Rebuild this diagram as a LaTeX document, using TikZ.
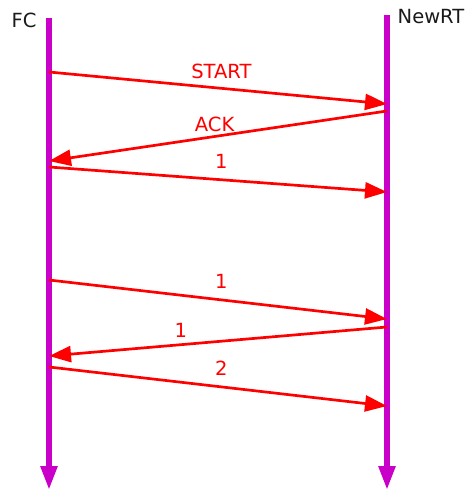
\documentclass[tikz,border=0pt]{standalone}
\usepackage{fontspec}
\setmainfont{DejaVu Sans}
\usepackage{tikz}
\usetikzlibrary{arrows.meta}

\definecolor{lifecol}{RGB}{200,0,200}
\definecolor{msgcol}{RGB}{255,0,0}
\definecolor{namecol}{RGB}{26,26,26}

\begin{document}
\begin{tikzpicture}[x=1pt,y=-1pt,font=\fontsize{19.5}{22}\selectfont]
\tikzstyle{life}=[draw=lifecol,line width=5.5pt,-{Triangle[length=24pt,width=16pt]}]
\tikzstyle{msg}=[draw=msgcol,line width=2.7pt,-{Triangle[length=22pt,width=16pt]}]
\tikzstyle{lbl}=[text=msgcol,inner sep=0pt]
\useasboundingbox (0,0) rectangle (467,491);

% the two parties
\node[text=namecol,inner sep=0pt] (FC) at (24,20) {FC};
\node[text=namecol,inner sep=0pt] (NRT) at (431,17) {NewRT};
\coordinate (FCtop) at (49,18);
\coordinate (FCend) at (49,490);
\coordinate (NRTtop) at (387,15);
\coordinate (NRTend) at (387,490);
\draw[life] (FCtop) -- (FCend);
\draw[life] (NRTtop) -- (NRTend);

% message end points
\coordinate (f1) at (49,72);   \coordinate (n1) at (387,104);
\coordinate (n2) at (387,111); \coordinate (f2) at (49,161);
\coordinate (f3) at (49,167);  \coordinate (n3) at (387,192);
\coordinate (f4) at (49,280);  \coordinate (n4) at (387,319);
\coordinate (n5) at (387,327); \coordinate (f5) at (49,356);
\coordinate (f6) at (49,367);  \coordinate (n6) at (387,406);

\path
(f1) edge[msg] node[lbl,pos=0.51,above=8pt] {START} (n1)
(n2) edge[msg] node[lbl,pos=0.51,above=3pt] {ACK} (f2)
(f3) edge[msg] node[lbl,pos=0.51,above=10pt] {1} (n3)
(f4) edge[msg] node[lbl,pos=0.51,above=10pt] {1} (n4)
(n5) edge[msg] node[lbl,pos=0.61,above=6pt] {1} (f5)
(f6) edge[msg] node[lbl,pos=0.51,above=10pt] {2} (n6);
\end{tikzpicture}
\end{document}
